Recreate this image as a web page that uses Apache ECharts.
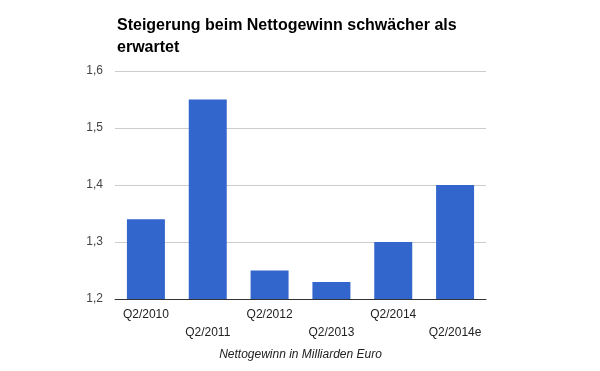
<!DOCTYPE html>
<html><head><meta charset="utf-8">
<script src="https://cdn.jsdelivr.net/npm/echarts@6/dist/echarts.min.js"></script>
<style>html,body{margin:0;padding:0;background:#fff}#c{width:600px;height:371px}</style>
</head><body><div id="c"></div>
<script>
const categories = ['Q2/2010','Q2/2011','Q2/2012','Q2/2013','Q2/2014','Q2/2014e'];
const values = [1.34, 1.55, 1.25, 1.23, 1.30, 1.40];
const yTicks = [1.2, 1.3, 1.4, 1.5, 1.6];
const titleText = 'Steigerung beim Nettogewinn schwächer als\nerwartet';
const axisName = 'Nettogewinn in Milliarden Euro';

const chart = echarts.init(document.getElementById('c'), null, {renderer:'canvas'});
chart.setOption({
  animation:false,
  backgroundColor:'#fff',
  title:{text:titleText, left:112, top:10,
    textStyle:{fontFamily:'Liberation Sans, Arial', fontSize:16, fontWeight:'bold', color:'#000', lineHeight:22}},
  grid:{left:115, right:114, top:71, bottom:72, containLabel:false},
  xAxis:{type:'category', data:categories,
    axisLine:{lineStyle:{color:'#333', width:1}},
    axisTick:{show:false},
    axisLabel:{interval:0, margin:7, color:'#222', fontFamily:'Liberation Sans, Arial', fontSize:12, lineHeight:18,
      formatter:(v,i)=> i%2===1 ? '\n'+v : v},
    name:axisName, nameLocation:'middle', nameGap:50,
    nameTextStyle:{fontStyle:'italic', color:'#222', fontFamily:'Liberation Sans, Arial', fontSize:12}},
  yAxis:{type:'value', min:yTicks[0], max:yTicks[yTicks.length-1], interval:0.1,
    axisLine:{show:false}, axisTick:{show:false},
    splitLine:{lineStyle:{color:'#ccc'}},
    axisLabel:{margin:12, color:'#444', fontFamily:'Liberation Sans, Arial', fontSize:12,
      formatter:v=>v.toFixed(1).replace('.',',')}},
  series:[{type:'bar', data:values, barWidth:38, itemStyle:{color:'#3366cc'}}]
});
</script></body></html>
